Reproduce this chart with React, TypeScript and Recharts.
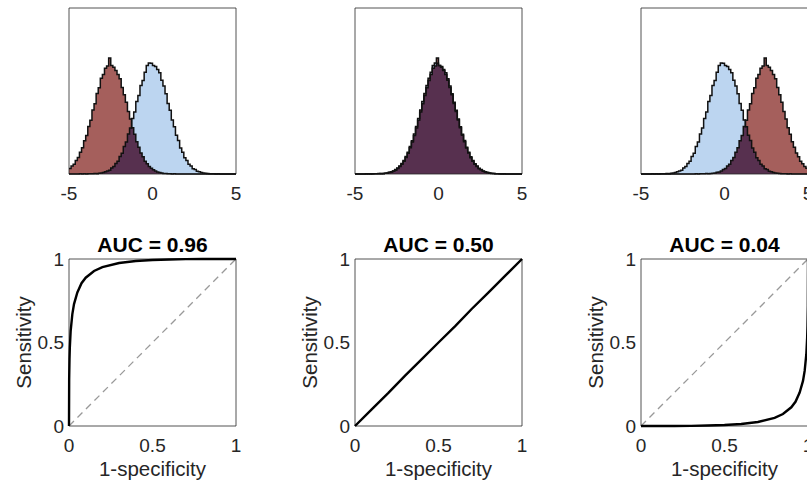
import { ComposedChart, Area, Line, XAxis, YAxis, ReferenceArea } from 'recharts';

// histogram bins: 72 bins of width 0.125 starting at -4.5
const BIN_START = -4.5;
const BIN_WIDTH = 0.125;

const blueCounts = [
  0, 1, 0, 1, 0, 1, 1, 1, 2, 1,
  3, 4, 5, 8, 11, 14, 22, 27, 38, 46,
  63, 75, 99, 116, 145, 166, 201, 224, 262, 284,
  320, 338, 368, 392, 401, 400, 392, 389, 378, 366,
  339, 318, 290, 255, 230, 195, 171, 140, 121, 94,
  79, 59, 49, 35, 29, 19, 16, 10, 8, 5,
  4, 3, 2, 1, 1, 1, 0, 1, 0, 0,
  0, 0,
];

// same-shaped sample, moved by redOffsets in each panel
const redCounts = [
  0, 0, 1, 0, 1, 1, 1, 2, 1, 2,
  3, 4, 6, 7, 11, 16, 20, 29, 35, 49,
  60, 79, 95, 120, 139, 172, 194, 231, 254, 291,
  312, 346, 360, 382, 390, 419, 392, 386, 374, 360,
  344, 313, 286, 259, 226, 199, 167, 144, 117, 97,
  76, 62, 46, 37, 27, 21, 15, 11, 7, 5,
  4, 2, 2, 1, 1, 0, 1, 0, 0, 0,
  0, 0,
];

const redOffsets = [-2.5, 0, 2.5];
const histTicks = [-5, 0, 5];

const rocHigh = [
  { x: 0, y: 0 }, { x: 0.001, y: 0.28 }, { x: 0.003, y: 0.4 }, { x: 0.005, y: 0.47 },
  { x: 0.01, y: 0.57 }, { x: 0.02, y: 0.67 }, { x: 0.03, y: 0.73 }, { x: 0.05, y: 0.8 },
  { x: 0.075, y: 0.855 }, { x: 0.1, y: 0.888 }, { x: 0.15, y: 0.928 }, { x: 0.2, y: 0.951 },
  { x: 0.3, y: 0.976 }, { x: 0.4, y: 0.988 }, { x: 0.5, y: 0.994 }, { x: 0.6, y: 0.997 },
  { x: 0.7, y: 0.999 }, { x: 0.8, y: 1 }, { x: 1, y: 1 },
];
const rocChance = [
  { x: 0, y: 0 }, { x: 0.1, y: 0.1 }, { x: 0.2, y: 0.198 }, { x: 0.3, y: 0.302 },
  { x: 0.4, y: 0.4 }, { x: 0.5, y: 0.5 }, { x: 0.6, y: 0.598 }, { x: 0.7, y: 0.702 },
  { x: 0.8, y: 0.8 }, { x: 0.9, y: 0.9 }, { x: 1, y: 1 },
];
const rocLow = [
  { x: 0, y: 0 }, { x: 0.2, y: 0 }, { x: 0.3, y: 0.001 }, { x: 0.4, y: 0.003 },
  { x: 0.5, y: 0.006 }, { x: 0.6, y: 0.012 }, { x: 0.7, y: 0.024 }, { x: 0.8, y: 0.049 },
  { x: 0.85, y: 0.072 }, { x: 0.9, y: 0.112 }, { x: 0.925, y: 0.145 }, { x: 0.95, y: 0.2 },
  { x: 0.97, y: 0.27 }, { x: 0.98, y: 0.33 }, { x: 0.99, y: 0.43 }, { x: 0.995, y: 0.53 },
  { x: 0.997, y: 0.6 }, { x: 0.999, y: 0.72 }, { x: 1, y: 1 },
];
const rocCurves = [rocHigh, rocChance, rocLow];
const aucTitles = ['AUC = 0.96', 'AUC = 0.50', 'AUC = 0.04'];
const rocTicks = [0, 0.5, 1];
const diagonal = [{ x: 0, y: 0 }, { x: 1, y: 1 }];

const FONT = '"Liberation Sans", Arial, Helvetica, sans-serif';
const INK = '#262626';
const RED = '#a55f5c';
const BLUE = '#bcd5f0';
const OVERLAP = '#57304f';
const EDGE = '#111';

const colLefts = [69, 355, 641];
const BOX = 167;

function histTable(offset: number) {
  const shift = Math.round(offset / BIN_WIDTH);
  const rows = [];
  for (let k = 0; k <= 80; k++) {
    const j = Math.min(k, 79);
    const bi = Math.round((-5 + j * BIN_WIDTH - BIN_START) / BIN_WIDTH);
    const blue = blueCounts[bi] ?? 0;
    const red = redCounts[bi - shift] ?? 0;
    rows.push({ x: -5 + k * BIN_WIDTH, blue, red, both: Math.min(blue, red) });
  }
  return rows;
}

const tickStyle = { fontSize: 19, fill: INK, fontFamily: FONT };

function HistPanel({ left, offset }: { left: number; offset: number }) {
  const data = histTable(offset);
  return (
    <div style={{ position: 'absolute', left: left - 20, top: 0 }}>
      <ComposedChart width={BOX + 40} height={210} data={data} margin={{ top: 8, right: 20, left: 20, bottom: 0 }}>
        <XAxis dataKey="x" type="number" domain={[-5, 5]} ticks={histTicks} interval={0} height={36}
          axisLine={false} tickLine={false} tickSize={0} tickMargin={13} tick={tickStyle} />
        <YAxis hide domain={[0, 600]} />
        <Area type="stepAfter" dataKey="blue" fill={BLUE} fillOpacity={1} stroke="none" isAnimationActive={false} />
        <Area type="stepAfter" dataKey="red" fill={RED} fillOpacity={1} stroke="none" isAnimationActive={false} />
        <Area type="stepAfter" dataKey="both" fill={OVERLAP} fillOpacity={1} stroke="none" isAnimationActive={false} />
        <Line type="stepAfter" dataKey="blue" stroke={EDGE} strokeWidth={1.5} dot={false} isAnimationActive={false} />
        <Line type="stepAfter" dataKey="red" stroke={EDGE} strokeWidth={1.5} dot={false} isAnimationActive={false} />
        <ReferenceArea x1={-5} x2={5} y1={0} y2={600} fill="none" stroke={INK} strokeWidth={0.8} />
      </ComposedChart>
    </div>
  );
}

function RocPanel({ left, curve, title }: { left: number; curve: { x: number; y: number }[]; title: string }) {
  return (
    <div style={{ position: 'absolute', left: left - 69, top: 220 }}>
      <ComposedChart width={250} height={262} margin={{ top: 39, right: 14, left: 0, bottom: 0 }}>
        <XAxis dataKey="x" type="number" domain={[0, 1]} ticks={rocTicks} interval={0} height={56}
          axisLine={false} tickLine={false} tickSize={0} tickMargin={13} tick={tickStyle}
          label={{ value: '1-specificity', position: 'center', dy: 15, fontSize: 20.5, fill: INK, fontFamily: FONT }} />
        <YAxis type="number" domain={[0, 1]} ticks={rocTicks} interval={0} width={69}
          axisLine={false} tickLine={false} tickSize={0} tickMargin={5} tick={tickStyle}
          label={{ value: 'Sensitivity', angle: -90, position: 'center', dx: -11, fontSize: 20.5, fill: INK, fontFamily: FONT }} />
        <Line data={diagonal} dataKey="y" stroke="#999" strokeWidth={1.3} strokeDasharray="7 5" dot={false} isAnimationActive={false} />
        <Line data={curve} dataKey="y" stroke="#000" strokeWidth={2.4} dot={false} isAnimationActive={false} />
        <ReferenceArea x1={0} x2={1} y1={0} y2={1} fill="none" stroke={INK} strokeWidth={0.8}
          label={{ value: title, position: 'top', offset: 7, fontSize: 21, fontWeight: 'bold', fill: '#000', fontFamily: FONT }} />
      </ComposedChart>
    </div>
  );
}

export default function App() {
  return (
    <div style={{ position: 'absolute', left: 0, top: 0, width: 807, height: 482, overflow: 'hidden', background: '#fff', fontFamily: FONT }}>
      {colLefts.map((l, i) => (
        <HistPanel key={'h' + i} left={l} offset={redOffsets[i]} />
      ))}
      {colLefts.map((l, i) => (
        <RocPanel key={'r' + i} left={l} curve={rocCurves[i]} title={aucTitles[i]} />
      ))}
    </div>
  );
}
